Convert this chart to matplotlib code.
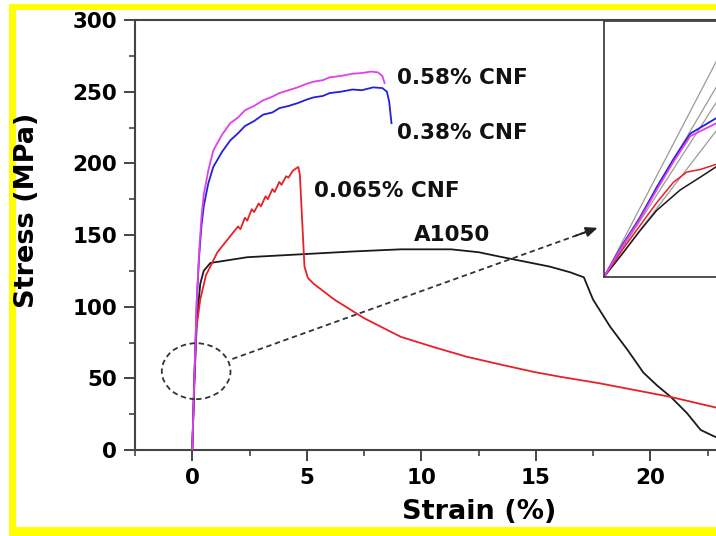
import matplotlib
matplotlib.use("Agg")
import matplotlib.pyplot as plt
from matplotlib.patches import Ellipse, Rectangle
from matplotlib.ticker import MultipleLocator, FixedLocator

plt.rcParams['font.family'] = ['DejaVu Sans']
plt.rcParams['font.weight'] = 'bold'

# ---------------- data ----------------
pink_strain = [0, 0.1, 0.2, 0.3, 0.4, 0.5, 0.7, 0.92, 1.3, 1.66, 2.0, 2.3, 2.7, 3.1, 3.5, 3.8, 4.2,
               4.6, 5.0, 5.3, 5.7, 6.0, 6.5, 7.0, 7.4, 7.8, 8.1, 8.3, 8.4]
pink_stress = [0, 55, 105, 138, 162, 178, 195, 209, 220, 228, 232, 237, 240, 244, 246.5, 249, 251,
               253, 255.5, 257, 258, 260, 261, 262.5, 263, 264, 263.5, 261, 256]

blue_strain = [0, 0.1, 0.2, 0.3, 0.4, 0.5, 0.7, 0.92, 1.3, 1.66, 2.0, 2.3, 2.7, 3.1, 3.5, 3.8, 4.2,
               4.6, 5.0, 5.3, 5.7, 6.0, 6.5, 7.0, 7.4, 7.9, 8.3, 8.5, 8.6, 8.7]
blue_stress = [0, 55, 105, 135, 156, 170, 186, 197.5, 208, 216, 221, 226, 229.5, 234, 235.5, 238.5, 240,
               242, 244.5, 246, 247, 249, 250, 251.5, 251, 253, 252.5, 250, 243, 228]

red_strain = [0, 0.08, 0.18, 0.35, 0.6, 1.1, 1.4, 1.7, 2.0, 2.1, 2.3, 2.4, 2.6, 2.7, 2.9, 3.0, 3.2, 3.3,
              3.5, 3.6, 3.8, 3.9, 4.1, 4.2, 4.4, 4.63, 4.7, 4.8, 4.9, 5.05, 5.3, 6.2, 7.5, 9.1, 10.5,
              12.0, 13.5, 14.9, 16.1, 17.8, 20.9, 22.9, 24.0]
red_stress = [0, 45, 85, 105, 122, 138, 144, 150, 156, 154, 162, 160, 168, 166, 172, 170, 177, 175,
              182, 180, 187, 185, 191, 190, 195, 197.5, 192, 160, 128, 120, 116, 105, 92, 79, 72,
              65, 59.5, 54.5, 51, 46.5, 37, 29.5, 26]

black_strain = [0, 0.1, 0.2, 0.35, 0.5, 0.79, 1.2, 2.4, 4.7, 7.0, 9.1, 11.3, 12.5, 13.4, 14.5,
                15.6, 16.5, 17.1, 17.5, 18.25, 19.0, 19.7, 20.3, 20.9, 21.6, 22.2, 22.75, 23.5]
black_stress = [0, 50, 90, 116, 125, 130.5, 131.5, 134.5, 136.5, 138.5, 140, 140, 138, 135, 131.5,
                128, 124, 120.5, 105, 86, 70, 54, 45, 37, 25.8, 14, 9.8, 5]

labels = ['0.58% CNF', '0.38% CNF', '0.065% CNF', 'A1050']
label_x = [8.95, 8.95, 5.33, 9.7]
label_y = [259.5, 221, 181, 150]

x_major_ticks = [0, 5, 10, 15, 20]
x_minor_ticks = [-2.5, 2.5, 7.5, 12.5, 17.5, 22.5]

# inset (normalised zoom of the elastic region)
in_black_x = [0, 0.17, 0.32, 0.47, 0.68, 0.86, 1.0, 1.2]
in_black_y = [0, 0.094, 0.18, 0.26, 0.34, 0.39, 0.43, 0.47]
in_red_x = [0, 0.17, 0.32, 0.47, 0.62, 0.74, 0.86, 1.0, 1.2]
in_red_y = [0, 0.11, 0.20, 0.29, 0.37, 0.41, 0.42, 0.44, 0.47]
in_blue_x = [0, 0.17, 0.32, 0.47, 0.62, 0.77, 1.0, 1.2]
in_blue_y = [0, 0.13, 0.23, 0.35, 0.46, 0.56, 0.62, 0.67]
in_pink_x = [0, 0.17, 0.32, 0.47, 0.62, 0.77, 1.0, 1.2]
in_pink_y = [0, 0.125, 0.225, 0.34, 0.45, 0.55, 0.60, 0.64]
in_gray_end = [0.84, 0.74, 0.68, 0.57]

ellipse_center = (0.17, 55)
ellipse_size = (3.0, 39)
arrow_start = (1.75, 63.5)
arrow_end = (17.7, 155)

# ---------------- figure ----------------
W, H = 716, 536
fig = plt.figure(figsize=(W / 100, H / 100), dpi=100)
fig.patch.set_facecolor('white')

def px_rect(x0, y0, x1, y1):
    return [x0 / W, 1 - y1 / H, (x1 - x0) / W, (y1 - y0) / H]

yellow = '#ffff00'
for (x0, y0, x1, y1) in [(9, 4, 716, 10), (9, 4, 16, 536), (9, 527, 716, 536)]:
    r = px_rect(x0, y0, x1, y1)
    fig.add_artist(Rectangle((r[0], r[1]), r[2], r[3], transform=fig.transFigure,
                             facecolor=yellow, edgecolor='none', zorder=0))

x_left, x_right = -2.5, 25.0
px_per_x = 22.9
ax_left_px, ax_top_px, ax_bot_px = 135, 20, 450
ax_w_px = (x_right - x_left) * px_per_x
ax = fig.add_axes([ax_left_px / W, 1 - ax_bot_px / H, ax_w_px / W, (ax_bot_px - ax_top_px) / H])
ax.set_facecolor('none')

lw = 1.3
ax.plot(black_strain, black_stress, color='#1a1a1a', lw=lw, zorder=3)
ax.plot(red_strain, red_stress, color='#e8202a', lw=lw, zorder=4)
ax.plot(blue_strain, blue_stress, color='#2020dd', lw=lw, zorder=5)
ax.plot(pink_strain, pink_stress, color='#e040e8', lw=lw, zorder=6)

for t, x, y in zip(labels, label_x, label_y):
    ax.text(x, y, t, fontsize=15.5, fontweight='bold', ha='left', va='center', color='#111111')

ax.add_patch(Ellipse(ellipse_center, ellipse_size[0], ellipse_size[1], fill=False,
                     edgecolor='#333333', lw=1.3, linestyle=(0, (3, 2)), zorder=7))
ax.plot([arrow_start[0], arrow_end[0]], [arrow_start[1], arrow_end[1]], color='#333333',
        lw=1.3, linestyle=(0, (3, 2)), zorder=7)
ax.annotate('', xy=arrow_end,
            xytext=(arrow_end[0] - 0.06 * (arrow_end[0] - arrow_start[0]),
                    arrow_end[1] - 0.06 * (arrow_end[1] - arrow_start[1])),
            arrowprops=dict(arrowstyle='-|>,head_length=0.7,head_width=0.3', color='#222222',
                            lw=1.3, shrinkA=0, shrinkB=0), zorder=8)

ax.set_xlim(x_left, x_right)
ax.set_ylim(0, 300)
ax.xaxis.set_major_locator(FixedLocator(x_major_ticks))
ax.xaxis.set_minor_locator(FixedLocator(x_minor_ticks))
ax.yaxis.set_major_locator(MultipleLocator(50))
ax.yaxis.set_minor_locator(MultipleLocator(25))
spine_c = '#444444'
for s in ['left', 'bottom', 'top', 'right']:
    ax.spines[s].set_color(spine_c)
    ax.spines[s].set_linewidth(1.5)
ax.tick_params(axis='both', which='major', direction='out', length=8, width=1.4, color=spine_c,
               labelsize=15.5, pad=5, top=False, right=False)
ax.tick_params(axis='both', which='minor', direction='out', length=4, width=1.2, color=spine_c,
               top=False, right=False)
for lab in ax.get_xticklabels() + ax.get_yticklabels():
    lab.set_fontweight('bold')

ax.set_xlabel('Strain (%)', fontsize=19.5, fontweight='bold')
ax.set_ylabel('Stress (MPa)', fontsize=19.5, fontweight='bold')
ax.xaxis.set_label_coords((479 - ax_left_px) / ax_w_px, -0.115)
ax.yaxis.set_label_coords((40 - ax_left_px) / ax_w_px, (450 - 210) / 430)

# inset
in_l, in_t, in_b, in_r = 604, 21, 277, 800
axi = fig.add_axes([in_l / W, 1 - in_b / H, (in_r - in_l) / W, (in_b - in_t) / H])
axi.set_xlim(0, (in_r - in_l) / 112)
axi.set_ylim(0, 1)
axi.set_xticks([])
axi.set_yticks([])
for s in axi.spines.values():
    s.set_color(spine_c)
    s.set_linewidth(1.3)
for ye in in_gray_end:
    axi.plot([0, 1.2], [0, ye * 1.2], color='#9a9a9a', lw=0.9)
axi.plot(in_black_x, in_black_y, color='#1a1a1a', lw=1.1)
axi.plot(in_red_x, in_red_y, color='#e8202a', lw=1.1)
axi.plot(in_blue_x, in_blue_y, color='#2020dd', lw=1.3)
axi.plot(in_pink_x, in_pink_y, color='#e040e8', lw=1.3)

fig.savefig('out.png', dpi=100)
